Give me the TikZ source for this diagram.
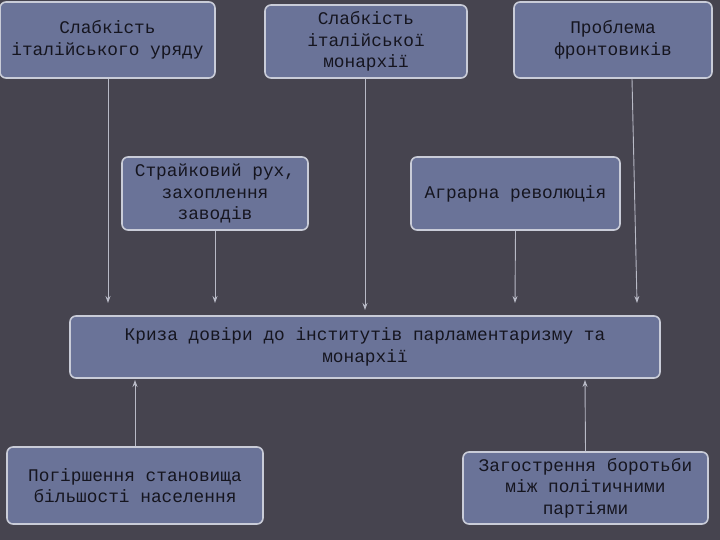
\documentclass[tikz,border=0pt]{standalone}
\usepackage{fontspec}
\setmainfont{Liberation Mono}
\usetikzlibrary{arrows.meta}
\definecolor{bg}{HTML}{46444F}
\definecolor{boxfill}{HTML}{6A7398}
\definecolor{boxline}{HTML}{C9CCD8}
\definecolor{txt}{HTML}{15151F}
\definecolor{arr}{HTML}{B8BAC6}
\begin{document}
\begin{tikzpicture}[x=1pt,y=-1pt,
 box/.style={draw=boxline,line width=1.6pt,fill=boxfill,rounded corners=6pt,inner sep=0pt,align=center,text=txt,font=\fontsize{17.8}{21.5}\selectfont},
 arrline/.style={draw=arr,line width=0.9pt,-{Stealth[length=7pt,width=5pt]}}]
\fill[bg] (0,0) rectangle (720,540);
\useasboundingbox (0,0) rectangle (720,540);
\node[box,minimum width=215,minimum height=76] (a) at (107.5,40) {Слабкість\\італійського уряду};
\node[box,minimum width=202,minimum height=73] (b) at (366,41.5) {Слабкість\\італійської\\монархії};
\node[box,minimum width=198,minimum height=76] (c) at (613,40) {Проблема\\фронтовиків};
\node[box,minimum width=186,minimum height=73] (d) at (215,193.5) {Страйковий рух,\\захоплення\\заводів};
\node[box,minimum width=209,minimum height=73] (e) at (515.5,193.5) {Аграрна революція};
\node[box,minimum width=590,minimum height=62] (f) at (365,347) {Криза довіри до інститутів парламентаризму та\\монархії};
\node[box,minimum width=256,minimum height=77] (g) at (135,485.5) {Погіршення становища\\більшості населення};
\node[box,minimum width=245,minimum height=72] (h) at (585.5,488) {Загострення боротьби\\між політичними\\партіями};
\coordinate (fa) at (108,303);
\coordinate (fb) at (365,310);
\coordinate (fc) at (637,303);
\coordinate (fd) at (215,303);
\coordinate (fe) at (515,303);
\coordinate (fg) at (135,380);
\coordinate (fh) at (585,380);
\draw[arrline] (a.south -| fa) -- (fa);
\draw[arrline] (b.south -| fb) -- (fb);
\draw[arrline] (c.south -| 632,0) -- (fc);
\draw[arrline] (d.south) -- (fd);
\draw[arrline] (e.south) -- (fe);
\draw[arrline] (g.north) -- (fg);
\draw[arrline] (h.north) -- (fh);
\end{tikzpicture}
\end{document}
